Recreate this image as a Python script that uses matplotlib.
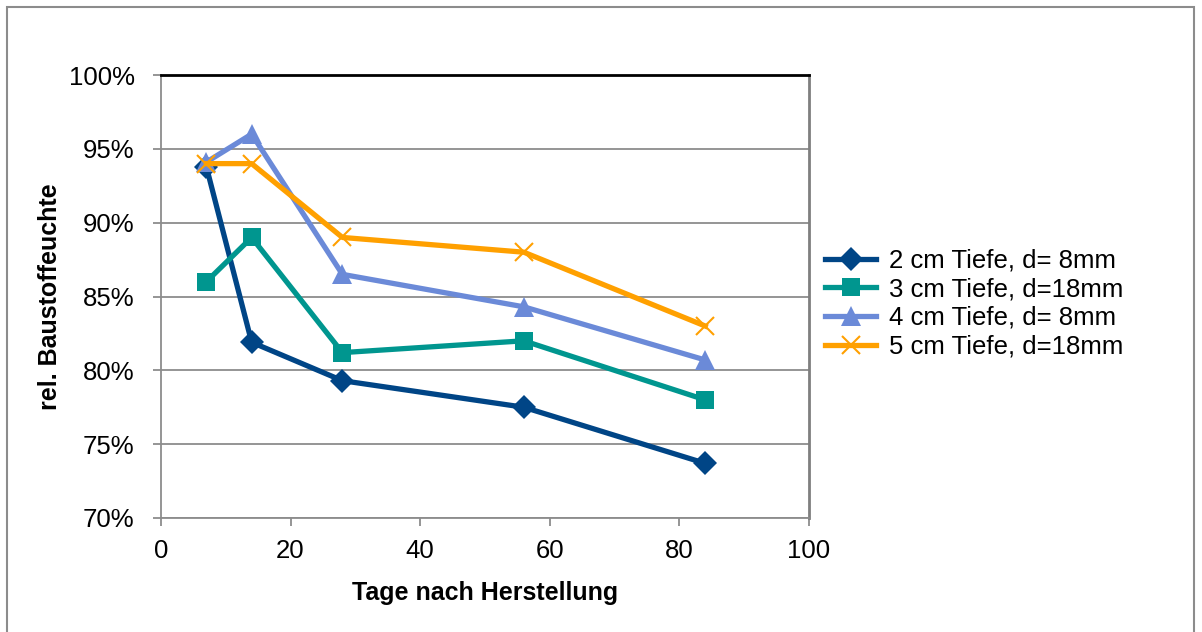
import matplotlib
matplotlib.use("Agg")
from matplotlib import pyplot as plt
from matplotlib.patches import Rectangle
from matplotlib.ticker import FuncFormatter

plt.rcParams['font.family'] = ['Liberation Sans', 'DejaVu Sans']

tage = [7, 14, 28, 56, 84]
tiefe_2cm = [93.8, 81.9, 79.3, 77.5, 73.7]
tiefe_3cm = [86.0, 89.0, 81.2, 82.0, 78.0]
tiefe_4cm = [94.1, 96.0, 86.5, 84.3, 80.7]
tiefe_5cm = [94.0, 94.0, 89.0, 88.0, 83.0]

labels = ['2 cm Tiefe, d= 8mm', '3 cm Tiefe, d=18mm',
          '4 cm Tiefe, d= 8mm', '5 cm Tiefe, d=18mm']
colors = ['#004586', '#00968f', '#6b8ad8', '#ffa000']
markers = ['D', 's', '^', 'x']
sizes = [12, 13, 14, 13]

fig = plt.figure(figsize=(12.02, 6.32), dpi=100)
ax = fig.add_axes([0.1339, 0.1804, 0.5391, 0.7009])

series = [tiefe_2cm, tiefe_3cm, tiefe_4cm, tiefe_5cm]
for vals, lab, col, mk, ms in zip(series, labels, colors, markers, sizes):
    ax.plot(tage, vals, color=col, marker=mk, markersize=ms, linewidth=3.8,
            markeredgewidth=1.5 if mk == 'x' else 0, markeredgecolor=col,
            label=lab, zorder=3)

ax.set_xlim(0, 100)
ax.set_ylim(70, 100)
ax.set_xticks(range(0, 101, 20))
ax.set_yticks(range(70, 101, 5))
ax.yaxis.set_major_formatter(FuncFormatter(lambda v, p: '%d%%' % v))
ax.grid(axis='y', color='#8c8c8c', linewidth=1.3)
ax.set_axisbelow(True)
ax.tick_params(labelsize=18.5, length=6, width=1.3, color='#8c8c8c')
ax.tick_params(axis='y', pad=13)
ax.tick_params(axis='x', pad=9)

for s in ['left', 'bottom']:
    ax.spines[s].set_color('#8c8c8c')
    ax.spines[s].set_linewidth(1.3)
ax.spines['top'].set_color('black')
ax.spines['top'].set_linewidth(2)
ax.spines['right'].set_color('#7f7f7f')
ax.spines['right'].set_linewidth(2)

ax.set_xlabel('Tage nach Herstellung', fontsize=18, fontweight='bold', labelpad=13)
ax.set_ylabel('rel. Baustoffeuchte', fontsize=18, fontweight='bold', labelpad=5)

fig.legend(loc='upper left', bbox_to_anchor=(0.667, 0.643), frameon=False,
           fontsize=18.5, handlelength=2.0, handletextpad=0.5, labelspacing=0.18)

# outer chart frame
fig.patches.append(Rectangle((7 / 1202, -0.05), 1187 / 1202, 1 - 7 / 632 + 0.05,
                             transform=fig.transFigure, fill=False,
                             edgecolor='#8c8c8c', linewidth=1.5))

fig.savefig('out.png', dpi=100)
